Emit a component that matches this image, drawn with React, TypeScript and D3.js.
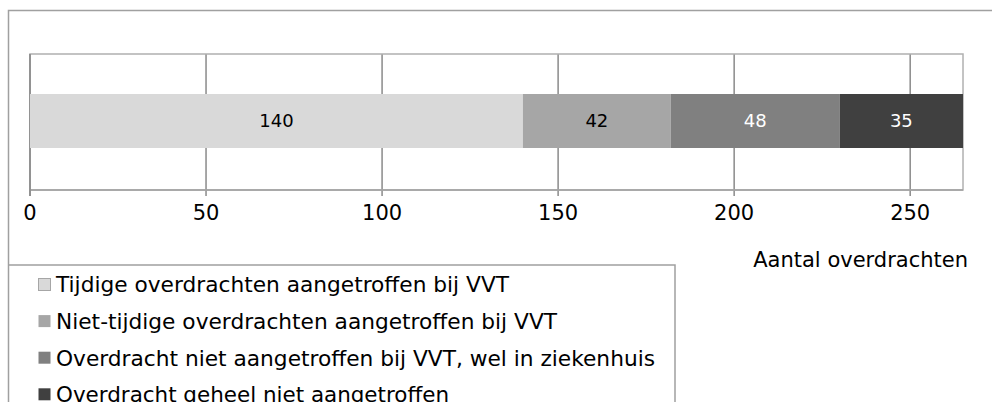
import * as d3 from 'd3';

const categories = [
	'Tijdige overdrachten aangetroffen bij VVT',
	'Niet-tijdige overdrachten aangetroffen bij VVT',
	'Overdracht niet aangetroffen bij VVT, wel in ziekenhuis',
	'Overdracht geheel niet aangetroffen',
];
const values = [140, 42, 48, 35];
const colors = ['#d9d9d9', '#a6a6a6', '#808080', '#404040'];
const labelColors = ['#000000', '#000000', '#ffffff', '#ffffff'];
const tickValues = [0, 50, 100, 150, 200, 250];
const axisTitle = 'Aantal overdrachten';
// measured widths of the legend labels (rendered slightly condensed)
const legendWidths = [453, 501, 599, 393];

const W = 992;
const H = 402;
const plot = { left: 30, right: 963, top: 54, bottom: 190 };
const font = 'Verdana, "DejaVu Sans", sans-serif';

export default function App() {
	const total = d3.sum(values);
	const x = d3.scaleLinear().domain([0, total]).range([plot.left, plot.right]);
	const starts = values.map((_, i) => d3.sum(values.slice(0, i)));
	const barY = 94;
	const barH = 54;

	const legendTop = 265;
	const rowY = (i: number) => 285 + i * 36.6;

	return (
		<svg
			width={W}
			height={H}
			style={{ position: 'absolute', left: 0, top: 0, background: '#fff' }}
			fontFamily={font}
		>
			{/* outer chart border */}
			<path d={`M${W},10.5 H8.5 V${H}`} fill="none" stroke="#a0a0a0" strokeWidth={1.5} />

			{/* gridlines */}
			{tickValues.map((t) => (
				<line
					key={t}
					x1={x(t)}
					x2={x(t)}
					y1={plot.top}
					y2={plot.bottom + 6}
					stroke="#8a8a8a"
					strokeWidth={1.5}
				/>
			))}

			{/* plot frame */}
			<rect
				x={plot.left}
				y={plot.top}
				width={plot.right - plot.left}
				height={plot.bottom - plot.top}
				fill="none"
				stroke="#b0b0b0"
				strokeWidth={1.5}
			/>
			<line x1={plot.left} x2={plot.right} y1={plot.bottom} y2={plot.bottom} stroke="#a0a0a0" strokeWidth={1.5} />
			<line x1={plot.left} x2={plot.left} y1={plot.top} y2={plot.bottom + 6} stroke="#8a8a8a" strokeWidth={1.5} />

			{/* stacked bar */}
			{values.map((v, i) => (
				<g key={i}>
					<rect x={x(starts[i])} y={barY} width={x(starts[i] + v) - x(starts[i])} height={barH} fill={colors[i]} />
					<text
						x={(x(starts[i]) + x(starts[i] + v)) / 2}
						y={barY + barH / 2}
						dy="0.35em"
						textAnchor="middle"
						fontSize={18}
						fill={labelColors[i]}
					>
						{v}
					</text>
				</g>
			))}

			{/* tick labels */}
			{tickValues.map((t) => (
				<text key={t} x={x(t)} y={213} dy="0.35em" textAnchor="middle" fontSize={21} fill="#000">
					{t}
				</text>
			))}

			<text x={968} y={260} dy="0.35em" textAnchor="end" fontSize={21} fill="#000">
				{axisTitle}
			</text>

			{/* legend */}
			<path d={`M8.5,${legendTop} H675 V${H}`} fill="none" stroke="#a0a0a0" strokeWidth={1.5} />
			{categories.map((c, i) => (
				<g key={c}>
					<rect
						x={38.5}
						y={rowY(i) - 6.5}
						width={12}
						height={12}
						fill={colors[i]}
						stroke={i === 0 ? '#a6a6a6' : 'none'}
						strokeWidth={1}
					/>
					<text
						x={56}
						y={rowY(i)}
						dy="0.35em"
						fontSize={21}
						fill="#000"
						textLength={legendWidths[i]}
						lengthAdjust="spacingAndGlyphs"
					>
						{c}
					</text>
				</g>
			))}
		</svg>
	);
}
